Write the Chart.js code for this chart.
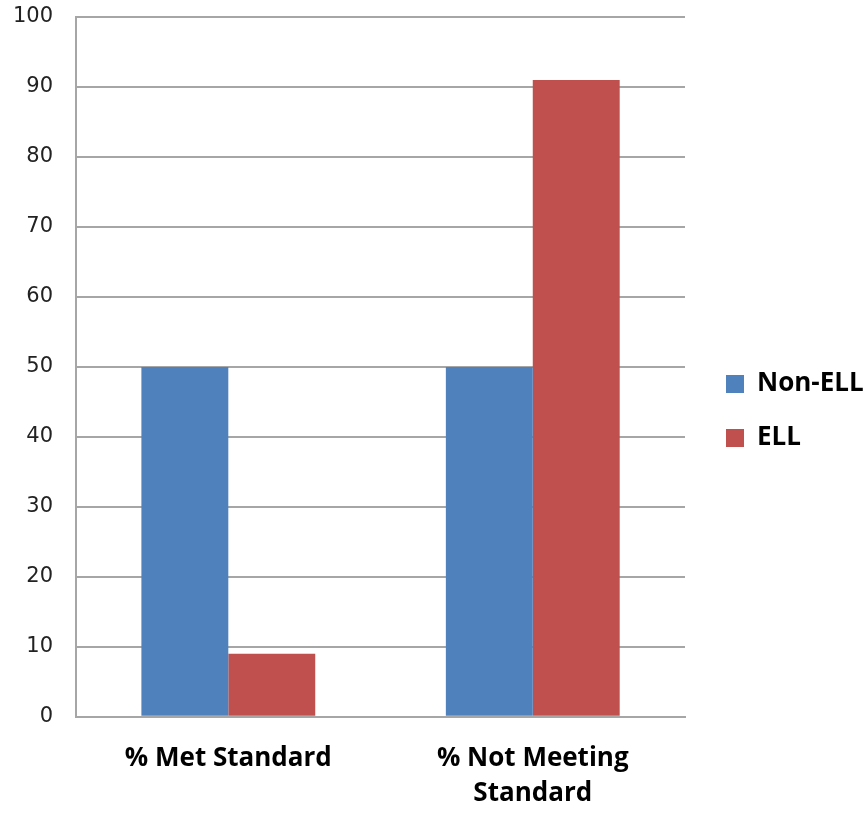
<!DOCTYPE html>
<html>
<head>
<meta charset="utf-8">
<script src="https://cdn.jsdelivr.net/npm/chart.js@4"></script>
<style>
  html, body { margin: 0; padding: 0; background: #fff; }
  #wrap { width: 864px; height: 813px; }
</style>
</head>
<body>
<div id="wrap"><canvas id="canvas" width="864" height="813"></canvas></div>
<script>
const categories = [['% Met Standard'], ['% Not Meeting', 'Standard']];
const nonEll = [50, 50];
const ell = [9, 91];
const yTicks = [0, 10, 20, 30, 40, 50, 60, 70, 80, 90, 100];

// legend sits in a fixed strip on the right, nudged to where the original has it
const legendStrip = {
    id: 'legendStrip',
    beforeInit(chart) {
        const legend = chart.legend;
        const fit = legend.fit;
        legend.fit = function () {
            fit.call(this);
            this.width = 179;
        };
    },
    afterLayout(chart) {
        chart.legend.left += 13;
        chart.legend.top -= 6;
    }
};

new Chart(document.getElementById('canvas').getContext('2d'), {
    type: 'bar',
    data: {
        labels: categories,
        datasets: [{
            label: 'Non-ELL',
            data: nonEll,
            backgroundColor: '#4F81BD'
        }, {
            label: 'ELL',
            data: ell,
            backgroundColor: '#C0504D'
        }]
    },
    options: {
        responsive: false,
        animation: false,
        layout: {
            padding: { left: 13, top: 17, right: 0, bottom: 2 }
        },
        datasets: {
            bar: {
                categoryPercentage: 0.571,
                barPercentage: 1
            }
        },
        plugins: {
            legend: {
                position: 'right',
                labels: {
                    boxWidth: 18,
                    boxHeight: 18,
                    padding: 28,
                    color: '#000',
                    font: { family: '"Open Sans"', size: 26, weight: 'bold' }
                }
            },
            tooltip: { enabled: false }
        },
        scales: {
            x: {
                // chart.js counts the tick padding twice, drop one of them
                afterFit(scale) {
                    scale.height -= scale.options.ticks.padding;
                    scale.paddingLeft = 0;
                    scale.paddingRight = 0;
                },
                grid: { display: false, drawTicks: false },
                border: { display: true, color: '#a6a6a6', width: 2 },
                ticks: {
                    padding: 24,
                    color: '#000',
                    font: { family: '"Open Sans"', size: 26, weight: 'bold', lineHeight: 1.35 }
                }
            },
            y: {
                min: 0,
                max: 100,
                afterBuildTicks(scale) {
                    scale.ticks = yTicks.map(v => ({ value: v }));
                },
                afterFit(scale) {
                    scale.width -= scale.options.ticks.padding;
                    scale.paddingTop = 0;
                    scale.paddingBottom = 0;
                },
                grid: { color: '#a6a6a6', lineWidth: 2, drawTicks: false },
                border: { display: true, color: '#a6a6a6', width: 2 },
                ticks: {
                    padding: 23,
                    color: '#222',
                    font: { family: '"DejaVu Sans"', size: 21 }
                }
            }
        }
    },
    plugins: [legendStrip]
});
</script>
</body>
</html>
